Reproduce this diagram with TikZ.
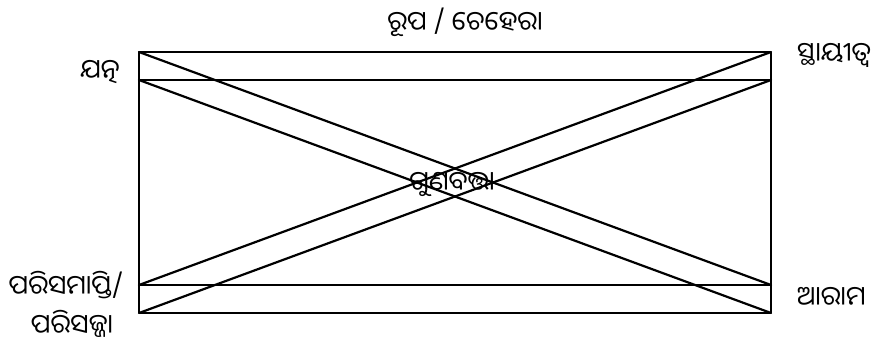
\documentclass[tikz,border=0pt]{standalone}
\usepackage{fontspec}
\newfontfamily\odia[Script=Oriya]{Noto Sans Oriya UI}
\usepackage{tikz}

\tikzset{
    lbl/.style={font=\odia\fontsize{26.5}{30}\selectfont, inner sep=0pt},
    edge/.style={line width=2.2pt, line cap=round, line join=round},
}

\begin{document}
\begin{tikzpicture}[x=1pt, y=-1pt]
\useasboundingbox (0,0) rectangle (881,345);

% === Frame points ===
\coordinate (tl) at (139,52);
\coordinate (tr) at (771,52);
\coordinate (ul) at (139,80);
\coordinate (ur) at (771,80);
\coordinate (ll) at (139,285);
\coordinate (lr) at (771,285);
\coordinate (bl) at (139,313);
\coordinate (br) at (771,313);

% === Frame and cross ===
\draw[edge] (tl) rectangle (br);
\draw[edge] (ul) -- (ur);
\draw[edge] (ll) -- (lr);
\draw[edge] (tl) -- (lr);
\draw[edge] (ul) -- (br);
\draw[edge] (tr) -- (ll);
\draw[edge] (ur) -- (bl);

% === Labels ===
\node[lbl] (top) at (465,22) {ରୂପ / ଚେହେରା};
\node[lbl, anchor=east] (care) at (120,72) {ଯତ୍ନ};
\node[lbl, anchor=west] (dura) at (797,55) {ସ୍ଥାୟୀତ୍ୱ};
\node[lbl] (fin1) at (66,285) {ପରିସମାପ୍ତି/};
\node[lbl] (fin2) at (72,324) {ପରିସଜ୍ଜା};
\node[lbl, anchor=west] (comf) at (797,297) {ଆରାମ};
\node[lbl] (mid) at (452,184) {ଗୁଣବତ୍ତା};
\end{tikzpicture}
\end{document}
